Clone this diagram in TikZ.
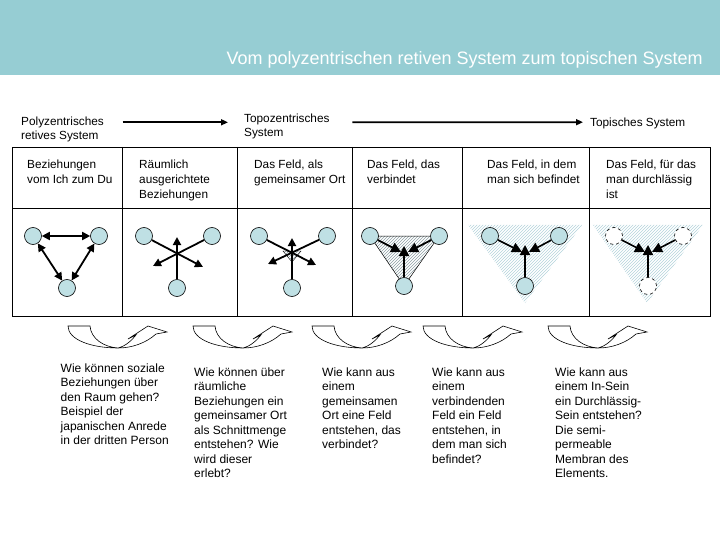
\documentclass[tikz,border=0pt]{standalone}
\usepackage{fontspec}
\setmainfont{Liberation Sans}
\usetikzlibrary{arrows.meta, patterns, backgrounds}
\definecolor{mbanner}{HTML}{96CDD3}
\definecolor{mperson}{HTML}{BFE0E4}
\definecolor{mhatch}{HTML}{B3D3DA}
\definecolor{mhatchdark}{HTML}{8C9FA4}
\tikzset{
  person/.style={circle, draw=black, fill=mperson, minimum size=17pt, inner sep=0pt, line width=0.6pt},
  ghost/.style={circle, draw=black, dashed, fill=white, minimum size=17pt, inner sep=0pt, line width=0.6pt},
  titel/.style={anchor=base east, inner sep=0pt, text=white, font=\fontsize{18}{22}\selectfont},
  kopf/.style={anchor=north west, align=left, inner sep=0pt, font=\fontsize{11.8}{14}\selectfont},
  zelle/.style={anchor=north west, align=left, inner sep=0pt, font=\fontsize{11.8}{15}\selectfont},
  frage/.style={anchor=north west, align=left, inner sep=0pt, font=\fontsize{12}{14.5}\selectfont},
  tab/.style={draw=black, line width=0.8pt},
  harr/.style={-{Triangle[length=7pt,width=6pt]}, line width=1.6pt},
  rel/.style={-{Triangle[length=8pt,width=8pt]}, line width=1.8pt},
  relboth/.style={{Triangle[length=8pt,width=8pt]}-{Triangle[length=8pt,width=8pt]}, line width=1.8pt},
  inrel/.style={-{Triangle[length=10pt,width=10pt]}, line width=1.6pt},
  feld/.style={pattern=north east lines, pattern color=mhatch},
  bogenlinie/.style={draw=black, fill=white, line width=0.6pt},
  pics/bogen/.style={code={
    \draw[bogenlinie] (0,0) -- (22,0)
      .. controls (23,13) and (36,21) .. (50,22)
      .. controls (58,20) and (64,14) .. (68,9)
      -- (60,13) -- (80,0) -- (99,6) -- (88,8)
      .. controls (78,17) and (64,22) .. (50,22)
      .. controls (24,22) and (0,14) .. (0,0) -- cycle;
  }},
}

\begin{document}
\begin{tikzpicture}[x=1pt, y=-1pt]
  \useasboundingbox (0,0) rectangle (720,540);
  \fill[mbanner] (0,0) rectangle (720,75);
  \node[titel] (titel) at (703,65) {Vom polyzentrischen retiven System zum topischen System};

  % Systeme
  \node[kopf] (poly) at (21,117) {Polyzentrisches\\retives System};
  \node[kopf] (topo) at (244,113.5) {Topozentrisches\\System};
  \node[kopf] (topi) at (590,117.5) {Topisches System};
  \draw[harr] ([shift={(18.5,-7.4)}]poly.east) -- ([shift={(-16,-3.9)}]topo.west);
  \draw[harr] ([shift={(22.6,-3.9)}]topo.east) -- ([shift={(-7,-1)}]topi.west);

  % Tabelle
  \draw[tab] (12,147) rectangle (710,316);
  \draw[tab] (12,208) -- (710,208);
  \draw[tab] (122,147) -- (122,316);
  \draw[tab] (237,147) -- (237,316);
  \draw[tab] (352,147) -- (352,316);
  \draw[tab] (462,147) -- (462,316);
  \draw[tab] (589,147) -- (589,316);

  \node[zelle] (z1) at (27,159.5) {Beziehungen\\vom Ich zum Du};
  \node[zelle] (z2) at (139,159.5) {Räumlich\\ausgerichtete\\Beziehungen};
  \node[zelle] (z3) at (254,159.5) {Das Feld, als\\gemeinsamer Ort};
  \node[zelle] (z4) at (367,159.5) {Das Feld, das\\verbindet};
  \node[zelle] (z5) at (487,159.5) {Das Feld, in dem\\man sich befindet};
  \node[zelle] (z6) at (606,159.5) {Das Feld, für das\\man durchlässig\\ist};

  % Ich und Du
  \node[person] (p1a) at (33,236) {};
  \node[person] (p1b) at (99,236) {};
  \node[person] (p1c) at (67,288) {};
  \draw[relboth] (p1a) -- (p1b);
  \draw[relboth] (p1a) -- (p1c);
  \draw[relboth] (p1b) -- (p1c);

  % raeumlich ausgerichtet
  \node[person] (p2a) at (144,236) {};
  \node[person] (p2b) at (212,236) {};
  \node[person] (p2c) at (177,288) {};
  \coordinate (t2a) at (203,267);
  \coordinate (t2b) at (153,266);
  \coordinate (t2c) at (177,237);
  \draw[rel] (p2a) -- (t2a);
  \draw[rel] (p2b) -- (t2b);
  \draw[rel] (p2c) -- (t2c);

  % gemeinsamer Ort
  \draw[line width=0.4pt, pattern=north east lines, pattern color=mhatchdark] (283,251) -- (301,251) -- (292,262) -- cycle;
  \node[person] (p3a) at (259,236) {};
  \node[person] (p3b) at (327,236) {};
  \node[person] (p3c) at (292,288) {};
  \coordinate (t3a) at (316,265);
  \coordinate (t3b) at (268,264);
  \coordinate (t3c) at (292,238);
  \draw[rel] (p3a) -- (t3a);
  \draw[rel] (p3b) -- (t3b);
  \draw[rel] (p3c) -- (t3c);

  % verbindendes Feld
  \node[person] (p4a) at (370,236) {};
  \node[person] (p4b) at (439,236) {};
  \node[person] (p4c) at (404,286) {};
  \begin{scope}[on background layer]
    \draw[line width=0.5pt, pattern=north east lines, pattern color=mhatchdark] (p4a.center) -- (p4b.center) -- (p4c.center) -- cycle;
  \end{scope}
  \coordinate (m4a) at (401,252);
  \coordinate (m4b) at (408,252);
  \coordinate (m4c) at (404,246);
  \draw[inrel, line width=1.8pt] (p4a) -- (m4a);
  \draw[inrel, line width=1.8pt] (p4b) -- (m4b);
  \draw[inrel, line width=1.8pt] (p4c) -- (m4c);

  % Feld, in dem man sich befindet
  \fill[feld] (468,225) -- (582,225) -- (525,303) -- cycle;
  \node[person] (p5a) at (490,236) {};
  \node[person] (p5b) at (559,236) {};
  \node[person] (p5c) at (525,286) {};
  \coordinate (m5a) at (522,252);
  \coordinate (m5b) at (529,252);
  \coordinate (m5c) at (525,245);
  \draw[inrel] (p5a) -- (m5a);
  \draw[inrel] (p5b) -- (m5b);
  \draw[inrel] (p5c) -- (m5c);

  % durchlaessiges Feld
  \fill[feld] (593,225) -- (703,225) -- (647,303) -- cycle;
  \node[ghost] (p6a) at (614,236) {};
  \node[ghost] (p6b) at (683,236) {};
  \node[ghost] (p6c) at (648,286) {};
  \coordinate (m6a) at (645,252);
  \coordinate (m6b) at (652,252);
  \coordinate (m6c) at (648,245);
  \draw[inrel] (p6a) -- (m6a);
  \draw[inrel] (p6b) -- (m6b);
  \draw[inrel] (p6c) -- (m6c);

  % Uebergaenge
  \pic at (68,326) {bogen};
  \pic at (193,326) {bogen};
  \pic at (312,326) {bogen};
  \pic at (423,326) {bogen};
  \pic at (548,326) {bogen};

  % Fragen
  \node[frage] (f1) at (60.5,363.5) {Wie können soziale\\Beziehungen über\\den Raum gehen?\\Beispiel der\\japanischen Anrede\\in der dritten Person};
  \node[frage] (f2) at (194,367.5) {Wie können über\\räumliche\\Beziehungen ein\\gemeinsamer Ort\\als Schnittmenge\\entstehen? Wie\\wird dieser\\erlebt?};
  \node[frage] (f3) at (322,367.5) {Wie kann aus\\einem\\gemeinsamen\\Ort eine Feld\\entstehen, das\\verbindet?};
  \node[frage] (f4) at (432,367.5) {Wie kann aus\\einem\\verbindenden\\Feld ein Feld\\entstehen, in\\dem man sich\\befindet?};
  \node[frage] (f5) at (555,367.5) {Wie kann aus\\einem In-Sein\\ein Durchlässig-\\Sein entstehen?\\Die semi-\\permeable\\Membran des\\Elements.};
\end{tikzpicture}
\end{document}
